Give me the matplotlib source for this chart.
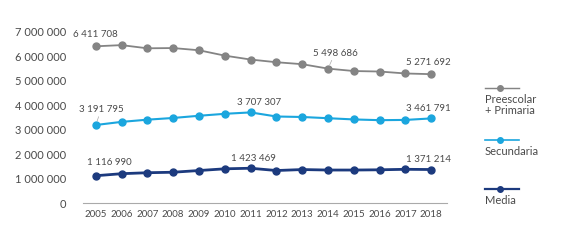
import numpy as np
import matplotlib.pyplot as plt
from matplotlib.lines import Line2D

plt.rcParams['font.family'] = ['Lato', 'DejaVu Sans']

years = list(range(2005, 2019))
series_names = ['Preescolar\n+ Primaria', 'Secundaria', 'Media']

preescolar = [6411708, 6460000, 6330000, 6340000, 6250000, 6030000, 5870000,
              5760000, 5680000, 5498686, 5400000, 5380000, 5300000, 5271692]
secundaria = [3191795, 3320000, 3410000, 3480000, 3570000, 3650000, 3707307,
              3540000, 3520000, 3470000, 3420000, 3390000, 3400000, 3461791]
media = [1116990, 1200000, 1240000, 1260000, 1330000, 1400000, 1423469,
         1330000, 1370000, 1350000, 1350000, 1360000, 1380000, 1371214]

colors = ['#848484', '#1ba6de', '#1c3a7e']
widths = [1.3, 1.5, 2.0]

# which points get a value label: (series, year index, dx pt, dy pt, leader line)
labels = [(0, 0, 0, 5, False), (0, 9, 5, 8, True), (0, 13, -2, 5, False),
          (1, 0, 4, 8, True), (1, 6, 6, 4, False), (1, 13, -2, 4, False),
          (2, 0, 10, 6, False), (2, 6, 2, 4, False), (2, 13, -2, 4, False)]


def fmt(v):
    return '{:,}'.format(int(v)).replace(',', ' ')


fig = plt.figure(figsize=(5.67, 2.4), dpi=100)
ax = fig.add_axes([0.146, 0.154, 0.642, 0.713])

data = [preescolar, secundaria, media]
for vals, col, lw in zip(data, colors, widths):
    ax.plot(years, vals, color=col, lw=lw, marker='o', markersize=5, zorder=3)

for s, i, dx, dy, leader in labels:
    arrow = None
    if leader:
        arrow = dict(arrowstyle='-', color='#aaaaaa', lw=0.5, shrinkA=0, shrinkB=3)
    ax.annotate(fmt(data[s][i]), (years[i], data[s][i]), xytext=(dx, dy),
                textcoords='offset points', ha='center', va='bottom',
                fontsize=7, color='#4a4a4a', arrowprops=arrow)

ax.set_xlim(2004.5, 2018.6)
ax.set_ylim(0, 7000000)
ax.set_xticks(years)
ax.set_yticks(np.arange(0, 7000001, 1000000))
ax.set_yticklabels([fmt(v) for v in ax.get_yticks()])
ax.tick_params(axis='y', length=0, labelsize=8, labelcolor='#4a4a4a', pad=12)
ax.tick_params(axis='x', length=0, labelsize=7, labelcolor='#4a4a4a', pad=5)
for side in ['top', 'right', 'left']:
    ax.spines[side].set_visible(False)
ax.spines['bottom'].set_color('#aaaaaa')
ax.spines['bottom'].set_linewidth(0.8)

# legend drawn by hand: line with marker, text underneath
leg_y = [0.633, 0.417, 0.213]
for name, col, lw, y in zip(series_names, colors, widths, leg_y):
    fig.add_artist(Line2D([0.855, 0.915], [y, y], color=col, lw=lw * 0.8,
                          transform=fig.transFigure))
    fig.add_artist(Line2D([0.882], [y], color=col, marker='o', markersize=4,
                          transform=fig.transFigure))
    fig.text(0.855, y - 0.025, name, ha='left', va='top', fontsize=8,
             color='#4a4a4a', linespacing=0.95)

fig.savefig('out.png', dpi=100)
